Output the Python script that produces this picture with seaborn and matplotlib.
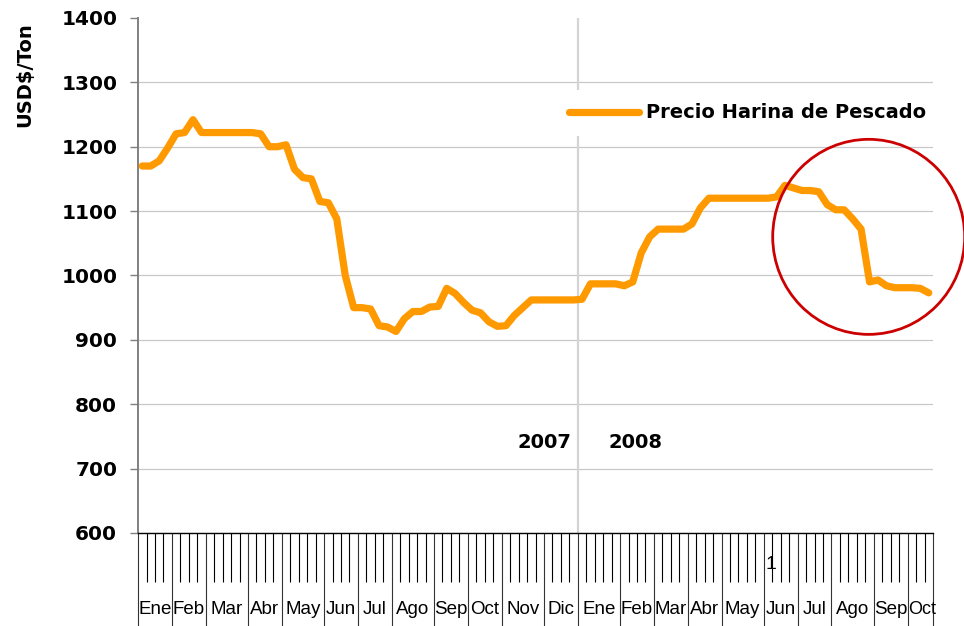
import matplotlib
matplotlib.use('Agg')
import matplotlib.pyplot as plt
import matplotlib.transforms as mtransforms
from matplotlib.patches import Ellipse
import numpy as np
import seaborn as sns

# months on the category axis (Jan 2007 - Oct 2008) and weeks in each one
months = ['Ene', 'Feb', 'Mar', 'Abr', 'May', 'Jun', 'Jul', 'Ago', 'Sep', 'Oct', 'Nov', 'Dic',
          'Ene', 'Feb', 'Mar', 'Abr', 'May', 'Jun', 'Jul', 'Ago', 'Sep', 'Oct']
weeks_per_month = [4, 4, 5, 4, 5, 4, 4, 5, 4, 4, 5, 4,
                   5, 4, 4, 4, 5, 4, 4, 5, 4, 3]
years = ['2007', '2008']

# weekly fishmeal price, USD$/Ton
price_2007 = [1170, 1170, 1178, 1198, 1220, 1222, 1242, 1222, 1222, 1222, 1222, 1222, 1222,
              1222, 1220, 1200, 1200, 1203, 1165, 1152, 1150, 1115, 1113, 1088, 1000, 950,
              950, 948, 922, 920, 913, 933, 944, 944, 951, 952, 980, 972, 958, 946, 942,
              928, 921, 922, 938, 950, 962, 962, 962, 962, 962, 962]
price_2008 = [963, 987, 987, 987, 987, 984, 990, 1035, 1060, 1072, 1072, 1072, 1072, 1080,
              1105, 1120, 1120, 1120, 1120, 1120, 1120, 1120, 1120, 1122, 1140, 1136, 1132,
              1132, 1130, 1110, 1102, 1102, 1088, 1072, 990, 993, 984, 981, 981, 981, 980, 973]
series_name = 'Precio Harina de Pescado'
y_ticks = [600, 700, 800, 900, 1000, 1100, 1200, 1300, 1400]

prices = price_2007 + price_2008
n_weeks = len(prices)
xs = np.arange(n_weeks) + 0.5
bounds = np.concatenate([[0], np.cumsum(weeks_per_month)])
year_split = sum(weeks_per_month[:12])

sns.set_theme(style='white')
plt.rcParams['font.family'] = ['DejaVu Sans']
plt.rcParams['text.color'] = 'black'
plt.rcParams['xtick.color'] = 'black'
plt.rcParams['ytick.color'] = 'black'

fig = plt.figure(figsize=(9.64, 6.26), dpi=100)
ax = fig.add_axes([0.1432, 0.1486, 0.8246, 0.8227])

ax.axvline(year_split, color='#d4d4d4', lw=1.6, zorder=1)
sns.lineplot(x=xs, y=prices, ax=ax, color='#FF9900', linewidth=5.2,
             label=series_name, zorder=3, solid_capstyle='round',
             solid_joinstyle='round')

ax.set_xlim(0, n_weeks)
ax.set_ylim(y_ticks[0], y_ticks[-1])

# gridlines
ax.set_yticks(y_ticks)
ax.yaxis.grid(True, color='#c8c8c8', lw=0.9, zorder=0)
ax.get_ygridlines()[-1].set_visible(False)
ax.set_axisbelow(True)

ax.tick_params(axis='y', length=6, width=1, color='#808080', pad=9,
               labelsize=14.5, labelcolor='black', left=True)
for lbl in ax.get_yticklabels():
    lbl.set_fontweight('bold')

# category axis: week ticks + month separators
ax.set_xticks(bounds)
ax.set_xticks(np.arange(n_weeks + 1), minor=True)
ax.tick_params(axis='x', which='major', length=67, width=0.8, color='#333333',
               direction='out', labelbottom=False, bottom=True)
ax.tick_params(axis='x', which='minor', length=35, width=0.8, color='black',
               direction='out', bottom=True)

for s in ['top', 'right']:
    ax.spines[s].set_visible(False)
ax.spines['left'].set_color('#808080')
ax.spines['left'].set_linewidth(1.4)
ax.spines['bottom'].set_color('black')
ax.spines['bottom'].set_linewidth(1.0)

trans = mtransforms.blended_transform_factory(ax.transData, ax.transAxes)
for i, m in enumerate(months):
    if i == len(months) - 1:
        # last month has only 3 weeks, keep its label inside its own slot
        ax.text(bounds[i] + 0.1, -0.149, m, transform=trans, ha='left', va='center',
                fontsize=13, family='Liberation Sans', color='black')
    else:
        ax.text((bounds[i] + bounds[i + 1]) / 2, -0.149, m, transform=trans,
                ha='center', va='center', fontsize=13.5, family='Liberation Sans',
                color='black')
ax.text(74.8, -0.062, '1', transform=trans, ha='center', va='center',
        fontsize=14, family='Liberation Sans', color='black')

ax.text(year_split - 0.8, 740, years[0], ha='right', va='center',
        fontsize=14, fontweight='bold', color='black')
ax.text(year_split + 3.6, 740, years[1], ha='left', va='center',
        fontsize=14, fontweight='bold', color='black')

ax.set_xlabel('')
ax.set_ylabel('')
fig.text(25 / 964, 1 - 75 / 626, 'USD$/Ton', rotation=90, ha='center', va='center',
         fontsize=14, fontweight='bold', color='black')

leg = ax.legend(loc='center left', bbox_to_anchor=(0.525, 0.8155), frameon=True,
                fontsize=14, handlelength=3.6, handletextpad=0.35, borderpad=0.7,
                borderaxespad=0)
leg.get_frame().set_facecolor('white')
leg.get_frame().set_edgecolor('none')
leg.get_frame().set_alpha(1)
for t in leg.get_texts():
    t.set_fontweight('bold')
    t.set_color('black')
for h in leg.get_lines():
    h.set_linewidth(5.2)
    h.set_solid_capstyle('round')

circle = Ellipse((86.4, 1060), width=22.7, height=303, fill=False,
                 edgecolor='#CC0000', lw=2, clip_on=False, zorder=4)
ax.add_patch(circle)

fig.savefig('out.png', dpi=100)
